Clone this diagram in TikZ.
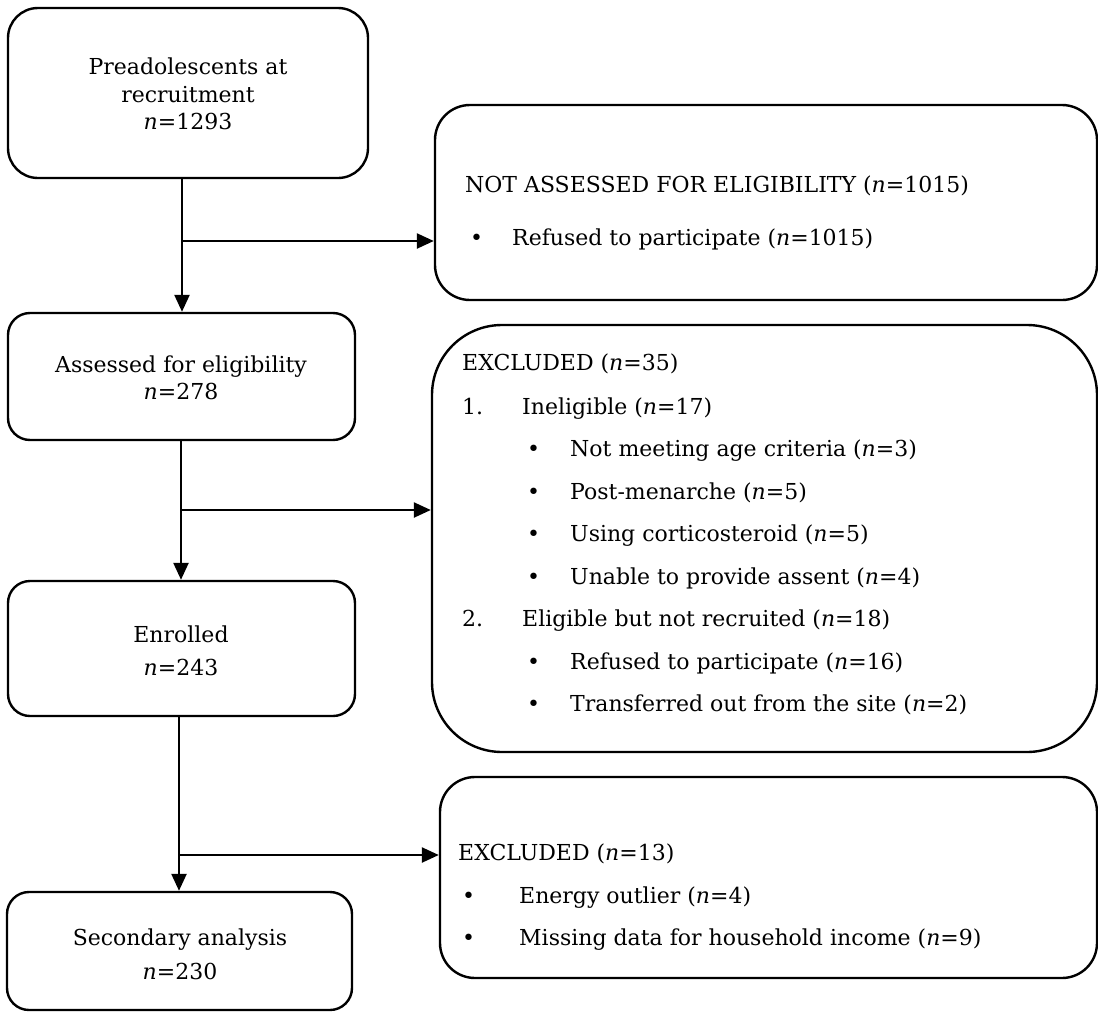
\documentclass[tikz,border=0pt]{standalone}
\usepackage{fontspec}
\setmainfont{DejaVu Serif}
\usetikzlibrary{arrows.meta}
\tikzset{
  box/.style={draw, line width=2.4pt, rounded corners=#1, inner sep=0pt},
  arr/.style={line width=2.4pt, -{Triangle[length=17pt,width=15pt]}},
  ctext/.style={align=center, inner sep=0pt, font=\fontsize{22}{27.5}\selectfont},
  rtext/.style={anchor=base west, inner sep=0pt, font=\fontsize{22}{26}\selectfont},
}
\newcommand{\nn}{\textit{n}}
\begin{document}
\begin{tikzpicture}[x=1pt,y=-1pt]
\useasboundingbox (0,0) rectangle (1098,1012);

% boxes
\node[box=30pt, minimum width=360pt, minimum height=170pt] (A) at (188,93) {};
\node[box=35pt, minimum width=662pt, minimum height=195pt] (B) at (766,202.5) {};
\node[box=22pt, minimum width=347pt, minimum height=127pt] (C) at (181.5,376.5) {};
\node[box=70pt, minimum width=665pt, minimum height=427pt] (D) at (764.5,538.5) {};
\node[box=22pt, minimum width=347pt, minimum height=135pt] (E) at (181.5,648.5) {};
\node[box=35pt, minimum width=657pt, minimum height=201pt] (F) at (768.5,877.5) {};
\node[box=22pt, minimum width=345pt, minimum height=118pt] (G) at (179.5,951) {};

% left texts
\node[ctext] (tA) at (188,94) {Preadolescents at\\recruitment\\\nn=1293};
\node[ctext] (tC) at (181,378) {Assessed for eligibility\\\nn=278};
\node[ctext, font=\fontsize{22}{33}\selectfont] (tE) at (181,651) {Enrolled\\\nn=243};
\node[ctext, font=\fontsize{22}{34}\selectfont] (tG) at (180,954) {Secondary analysis\\\nn=230};

% box B texts
\node[rtext] (b0) at (465,192) {NOT ASSESSED FOR ELIGIBILITY (\nn=1015)};
\node[rtext] (b1d) at (470,245) {\textbullet};
\node[rtext] (b1) at (512,245) {Refused to participate (\nn=1015)};

% box D texts
\node[rtext] (d0) at (462,370) {EXCLUDED (\nn=35)};
\node[rtext] (d1n) at (462,414) {1.};
\node[rtext] (d1) at (522,414) {Ineligible (\nn=17)};
\node[rtext] (d2d) at (527,456) {\textbullet};
\node[rtext] (d2) at (570,456) {Not meeting age criteria (\nn=3)};
\node[rtext] (d3d) at (527,499) {\textbullet};
\node[rtext] (d3) at (570,499) {Post-menarche (\nn=5)};
\node[rtext] (d4d) at (527,541) {\textbullet};
\node[rtext] (d4) at (570,541) {Using corticosteroid (\nn=5)};
\node[rtext] (d5d) at (527,584) {\textbullet};
\node[rtext] (d5) at (570,584) {Unable to provide assent (\nn=4)};
\node[rtext] (d6n) at (462,626) {2.};
\node[rtext] (d6) at (522,626) {Eligible but not recruited (\nn=18)};
\node[rtext] (d7d) at (527,669) {\textbullet};
\node[rtext] (d7) at (570,669) {Refused to participate (\nn=16)};
\node[rtext] (d8d) at (527,711) {\textbullet};
\node[rtext] (d8) at (570,711) {Transferred out from the site (\nn=2)};

% box F texts
\node[rtext] (f0) at (458,860) {EXCLUDED (\nn=13)};
\node[rtext] (f1d) at (462,903) {\textbullet};
\node[rtext] (f1) at (519,903) {Energy outlier (\nn=4)};
\node[rtext] (f2d) at (462,945) {\textbullet};
\node[rtext] (f2) at (519,945) {Missing data for household income (\nn=9)};

% connectors
\coordinate (j1) at (182,241);
\coordinate (j2) at (181,510);
\coordinate (j3) at (179,855);
\draw[arr] (A.south -| j1) -- (C.north -| j1);
\draw[arr] (j1) -- (j1 -| B.west);
\draw[arr] (C.south -| j2) -- (E.north -| j2);
\draw[arr] (j2) -- (j2 -| D.west);
\draw[arr] (E.south -| j3) -- (G.north -| j3);
\draw[arr] (j3) -- (j3 -| F.west);
\end{tikzpicture}
\end{document}
